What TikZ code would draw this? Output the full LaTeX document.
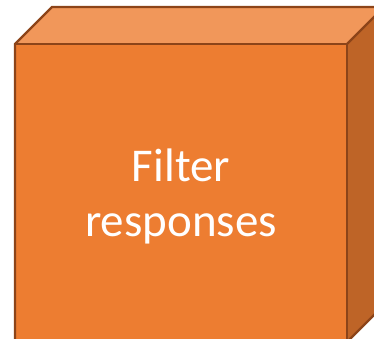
\documentclass[tikz,border=0pt]{standalone}
\usepackage{fontspec}
\setmainfont{Carlito}
\definecolor{frontc}{HTML}{ED7D31}
\definecolor{topc}{HTML}{F1975A}
\definecolor{sidec}{HTML}{BE6427}
\definecolor{edgec}{HTML}{8C4419}
\tikzset{face/.style={draw=edgec, line width=2.2pt, line join=miter}}
\begin{document}
\begin{tikzpicture}[x=1pt,y=-1pt]
\useasboundingbox (0,0) rectangle (374,339);
\clip (0,0) rectangle (374,339);
\coordinate (f1) at (15,44);
\coordinate (f2) at (347,44);
\coordinate (f3) at (347,342);
\coordinate (f4) at (15,342);
\coordinate (b1) at (52,7);
\coordinate (b2) at (384,7);
\coordinate (b3) at (384,305);
\fill[topc] (f1) -- (b1) -- (b2) -- (f2) -- cycle;
\fill[sidec] (f2) -- (b2) -- (b3) -- (f3) -- cycle;
\fill[frontc] (f1) rectangle (f3);
\draw[face] (f1) -- (b1) -- (b2) -- (b3) -- (f3) -- (f4) -- cycle;
\draw[face] (f1) -- (f2) -- (f3);
\draw[face] (f2) -- (b2);
\node[text=white, font=\fontsize{47}{55}\selectfont, align=center] (lbl) at (181,196) {Filter\\responses};
\end{tikzpicture}
\end{document}
